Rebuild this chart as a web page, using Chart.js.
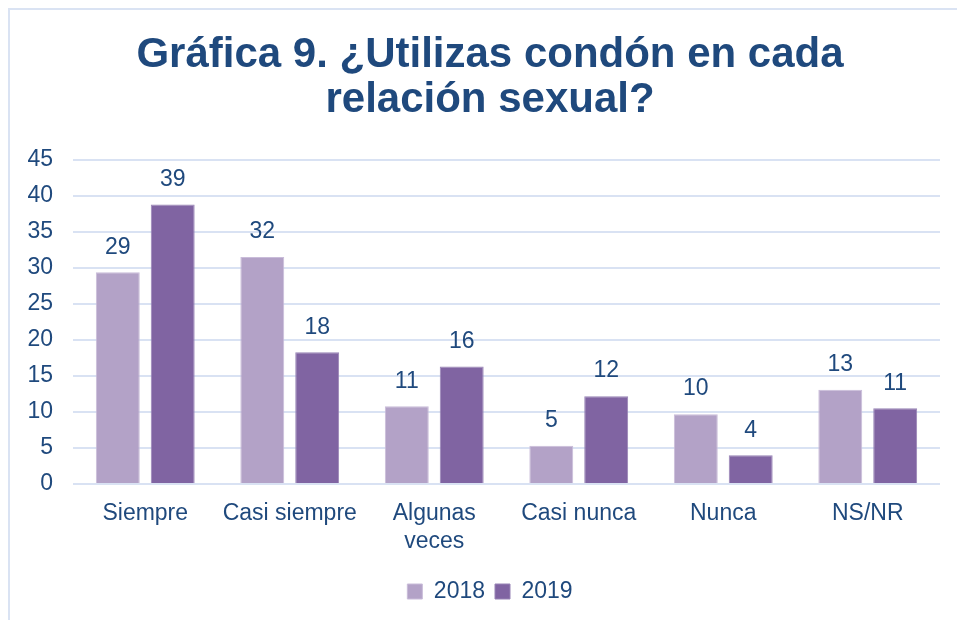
<!DOCTYPE html>
<html>
<head>
<meta charset="utf-8">
<script src="https://cdn.jsdelivr.net/npm/chart.js@4.4.1/dist/chart.umd.min.js"></script>
<style>
  html, body { margin: 0; padding: 0; background: #fff; overflow: hidden; }
  #frame { position: absolute; left: 8px; top: 8px; width: 980px; height: 640px; border: 2px solid #dae3f3; box-sizing: border-box; }
  #wrap { position: absolute; left: 0; top: 0; width: 957px; height: 620px; }
</style>
</head>
<body>
<div id="frame"></div>
<div id="wrap"><canvas id="chartCanva"></canvas></div>
<script>
// categories and series
const categories = ['Siempre', 'Casi siempre', ['Algunas', 'veces'], 'Casi nunca', 'Nunca', 'NS/NR'];
const values2018 = [29.4, 31.5, 10.8, 5.3, 9.7, 13.1];
const values2019 = [38.8, 18.3, 16.3, 12.2, 4.0, 10.5];
const yTicks = [0, 5, 10, 15, 20, 25, 30, 35, 40, 45];

const textColor = '#1f497d';
const gridColor = '#d9e2f3';
const fontFamily = '"Liberation Sans", Arial, sans-serif';

// draws the rounded value above each bar
const valueLabels = {
    id: 'valueLabels',
    afterDatasetsDraw(chart) {
        const ctx = chart.ctx;
        ctx.save();
        ctx.font = '23px ' + fontFamily;
        ctx.fillStyle = textColor;
        ctx.textAlign = 'center';
        ctx.textBaseline = 'middle';
        chart.data.datasets.forEach((ds, i) => {
            chart.getDatasetMeta(i).data.forEach((bar, j) => {
                ctx.fillText(Math.round(ds.data[j]), bar.x, bar.y - 25);
            });
        });
        ctx.restore();
    }
};

const data = {
    labels: categories,
    datasets: [{
        label: '2018',
        data: values2018,
        backgroundColor: '#b3a2c7',
        borderColor: '#c9bcd9',
        borderWidth: 1,
        barPercentage: 0.8,
        categoryPercentage: 0.76
    }, {
        label: '2019',
        data: values2019,
        backgroundColor: '#8064a2',
        borderColor: '#9783b5',
        borderWidth: 1,
        barPercentage: 0.8,
        categoryPercentage: 0.76
    }]
};

const config = {
    type: 'bar',
    data: data,
    options: {
        responsive: false,
        animation: false,
        layout: { padding: { left: 40, right: 17, top: 33, bottom: 7 } },
        plugins: {
            tooltip: { enabled: false },
            title: {
                display: true,
                text: ['Gráfica 9. ¿Utilizas condón en cada', 'relación sexual?'],
                color: textColor,
                font: { family: fontFamily, size: 42, weight: 'bold', lineHeight: 1.07 },
                padding: { top: 0, bottom: 37 }
            },
            legend: {
                position: 'bottom',
                labels: {
                    color: textColor,
                    font: { family: fontFamily, size: 23 },
                    boxWidth: 15,
                    boxHeight: 15,
                    padding: 10
                }
            }
        },
        scales: {
            x: {
                grid: { display: false },
                border: { display: false },
                afterFit: axis => { axis.height = 86; },
                ticks: {
                    color: textColor,
                    font: { family: fontFamily, size: 23, lineHeight: 1.2 },
                    padding: 8,
                    maxRotation: 0,
                    autoSkip: false
                }
            },
            y: {
                min: 0,
                max: 45,
                afterBuildTicks: axis => { axis.ticks = yTicks.map(v => ({ value: v })); },
                afterFit: axis => {
                    axis.width = 33;
                    // labels stick out past the narrowed axis box, so don't clip them
                    axis._computeLabelArea = () => undefined;
                },
                grid: { color: gridColor, lineWidth: 2, drawTicks: false },
                border: { display: false },
                ticks: {
                    color: textColor,
                    font: { family: fontFamily, size: 23 },
                    padding: 20
                }
            }
        }
    },
    plugins: [valueLabels]
};

const canvas = document.getElementById('chartCanva');
canvas.width = 957;
canvas.height = 620;
new Chart(canvas, config);
</script>
</body>
</html>
